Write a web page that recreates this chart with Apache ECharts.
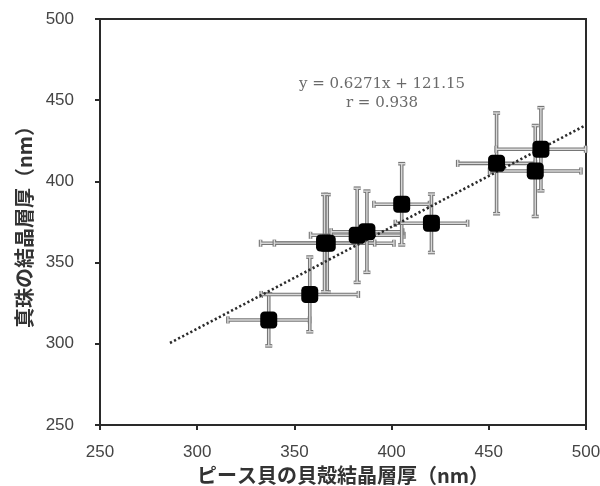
<!DOCTYPE html>
<html>
<head>
<meta charset="utf-8">
<style>
  html, body { margin: 0; padding: 0; background: #fff; }
  #chart { width: 600px; height: 486px; }
</style>
<script src="https://cdn.jsdelivr.net/npm/echarts@6/dist/echarts.min.js"></script>
</head>
<body>
<div id="chart"></div>
<script>
// Crystal layer thickness: Pinctada shell (x) vs. pearl (y), mean ± error
const shellThickness = [336.8, 357.9, 366.9, 365.5, 382.3, 387.3, 405.2, 420.5, 454.0, 476.8, 473.9];
const pearlThickness = [314.7, 330.4, 361.9, 362.0, 366.8, 369.0, 385.9, 374.2, 411.1, 419.8, 406.4];
const shellError     = [21.0, 25.0, 34.3, 25.8, 24.0, 18.4, 14.3, 18.6, 20.0, 23.0, 23.5];
const pearlError     = [16.0, 23.0, 30.0, 30.0, 29.0, 25.0, 25.0, 18.0, 31.0, 25.6, 28.0];

// Regression shown in the annotation
const slope = 0.6271;
const intercept = 121.15;
const corr = 0.938;
const fitRange = [286, 500];

const axisTicks = [250, 300, 350, 400, 450, 500];
const xTitle = 'ピース貝の貝殻結晶層厚（nm）';
const yTitle = '真珠の結晶層厚（nm）';

const points = shellThickness.map((x, i) => [x, pearlThickness[i]]);
const errData = shellThickness.map((x, i) => [x, pearlThickness[i], shellError[i], pearlError[i]]);
const fitLine = fitRange.map(x => [x, slope * x + intercept]);

const chart = echarts.init(document.getElementById('chart'));

function errorBar(params, api) {
  const x = api.value(0), y = api.value(1), ex = api.value(2), ey = api.value(3);
  const l = api.coord([x - ex, y]);
  const r = api.coord([x + ex, y]);
  const t = api.coord([x, y + ey]);
  const b = api.coord([x, y - ey]);
  const cap = 3.5;
  const segs = [
    [l, r], [t, b],
    [[l[0], l[1] - cap], [l[0], l[1] + cap]],
    [[r[0], r[1] - cap], [r[0], r[1] + cap]],
    [[t[0] - cap, t[1]], [t[0] + cap, t[1]]],
    [[b[0] - cap, b[1]], [b[0] + cap, b[1]]]
  ];
  const children = [];
  segs.forEach(s => {
    children.push({ type: 'line', shape: { x1: s[0][0], y1: s[0][1], x2: s[1][0], y2: s[1][1] },
      style: { stroke: '#767676', lineWidth: 3.6 } });
  });
  segs.forEach(s => {
    children.push({ type: 'line', shape: { x1: s[0][0], y1: s[0][1], x2: s[1][0], y2: s[1][1] },
      style: { stroke: '#d8d8d8', lineWidth: 1.4 } });
  });
  return { type: 'group', children };
}

const axisCommon = {
  type: 'value',
  min: 250,
  max: 500,
  interval: 50,
  axisLine: { show: true, lineStyle: { color: '#2a2a2a', width: 2 } },
  axisTick: { show: true, inside: false, length: 5, lineStyle: { color: '#2a2a2a', width: 2 } },
  splitLine: { show: false },
  axisLabel: {
    color: '#444',
    fontFamily: 'Liberation Sans, Arial, sans-serif',
    fontSize: 17,
    formatter: v => axisTicks.includes(v) ? String(v) : ''
  }
};

const noteFont = '15px "DejaVu Serif", "Liberation Serif", serif';

chart.setOption({
  animation: false,
  backgroundColor: '#fff',
  grid: {
    left: 100, right: 14, top: 19, bottom: 61,
    outerBoundsMode: 'none',
    containLabel: false,
    show: true, borderColor: '#2a2a2a', borderWidth: 2, backgroundColor: 'transparent'
  },
  xAxis: Object.assign({}, axisCommon, {
    axisLabel: Object.assign({}, axisCommon.axisLabel, { margin: 19 }),
    name: xTitle,
    nameLocation: 'middle',
    nameGap: 39,
    nameTextStyle: { color: '#333', fontSize: 20, fontWeight: 'bold', fontFamily: 'Noto Sans CJK JP' }
  }),
  yAxis: Object.assign({}, axisCommon, {
    axisLabel: Object.assign({}, axisCommon.axisLabel, { margin: 26 }),
    name: yTitle,
    nameLocation: 'middle',
    nameGap: 64,
    nameRotate: 90,
    nameTextStyle: { color: '#333', fontSize: 20, fontWeight: 'bold', fontFamily: 'Noto Sans CJK JP' }
  }),
  graphic: [
    {
      type: 'text', x: 382, y: 84,
      style: {
        text: 'y = ' + slope + 'x + ' + intercept.toFixed(2),
        fill: '#6a6a6a', font: noteFont, align: 'center', verticalAlign: 'middle'
      }
    },
    {
      type: 'text', x: 382, y: 103,
      style: {
        text: 'r = ' + corr,
        fill: '#6a6a6a', font: noteFont, align: 'center', verticalAlign: 'middle'
      }
    }
  ],
  series: [
    {
      type: 'custom',
      renderItem: errorBar,
      data: errData,
      encode: { x: 0, y: 1 },
      z: 1,
      silent: true
    },
    {
      type: 'line',
      data: fitLine,
      symbol: 'none',
      lineStyle: { color: '#2b2b2b', width: 2.6, type: [2.2, 2.4] },
      z: 2,
      silent: true
    },
    {
      type: 'scatter',
      data: points,
      symbol: 'roundRect',
      symbolSize: 17,
      itemStyle: { color: '#000', opacity: 1 },
      z: 3
    }
  ]
});
</script>
</body>
</html>
